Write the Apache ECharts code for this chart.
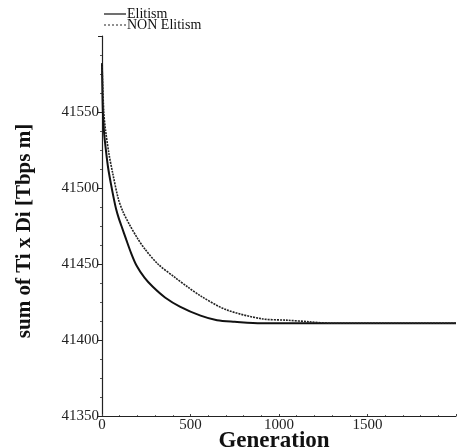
<!DOCTYPE html>
<html><head><meta charset="utf-8">
<script src="https://cdn.jsdelivr.net/npm/echarts@6/dist/echarts.min.js"></script>
<style>html,body{margin:0;padding:0;background:#fff}#c{width:458px;height:448px}</style>
</head><body><div id="c"></div>
<script>
const elitismGen = [0, 5, 12, 23, 35, 50, 65, 80, 95, 110, 137, 165, 195, 240, 287, 356, 440, 557, 650, 750, 900, 1200, 1500, 2000];
const elitismVal = [41582, 41550, 41536, 41524, 41513, 41503, 41494, 41486, 41480, 41475, 41466, 41457, 41449, 41441, 41435, 41428, 41422, 41416, 41413, 41412, 41411, 41411, 41411, 41411];
const nonGen = [0, 10, 20, 40, 60, 92, 120, 155, 200, 241, 316, 414, 483, 557, 700, 900, 1050, 1170, 1300, 1600, 2000];
const nonVal = [41582, 41550, 41538, 41522, 41510, 41493, 41484, 41476, 41467, 41460, 41450, 41441, 41435, 41429, 41420, 41414, 41413, 41412, 41411, 41411, 41411];
const yTicks = [41350, 41400, 41450, 41500, 41550];
const xTicks = [0, 500, 1000, 1500];

const pairs = (g, v) => g.map((x, i) => [x, v[i]]);
const serif = 'Liberation Serif, Times New Roman, serif';
const legText = { fontFamily: serif, fontSize: 14, color: '#111', padding: [0, 0, 0, -4] };
const chart = echarts.init(document.getElementById('c'));
chart.setOption({
  animation: false,
  backgroundColor: '#fff',
  grid: { left: 102, right: 2, top: 36, bottom: 32, outerBoundsMode: 'none', containLabel: false },
  legend: [
    { left: 99, top: 2, itemWidth: 22, itemHeight: 8, textStyle: legText,
      data: [{ name: 'Elitism', icon: 'path://M0,4L22,4L22,5.2L0,5.2Z' }] },
    { left: 99, top: 13, itemWidth: 22, itemHeight: 8, textStyle: legText,
      data: [{ name: 'NON Elitism', icon: 'path://M0,4L2,4L2,5L0,5ZM4,4L6,4L6,5L4,5ZM8,4L10,4L10,5L8,5ZM12,4L14,4L14,5L12,5ZM16,4L18,4L18,5L16,5ZM20,4L22,4L22,5L20,5Z' }] }
  ],
  xAxis: {
    type: 'value', min: 0, max: 2000, interval: 500,
    name: 'Generation', nameLocation: 'middle', nameGap: 14, nameMoveOverlap: false,
    nameTextStyle: { fontFamily: serif, fontSize: 23, fontWeight: 'bold', color: '#111', padding: [0, 10, 0, 0] },
    axisLine: { lineStyle: { color: '#222', width: 1 } },
    axisTick: { show: true, inside: true, length: 2, lineStyle: { color: '#444' } },
    minorTick: { show: true, splitNumber: 5, length: 1, lineStyle: { color: '#666' } },
    splitLine: { show: false },
    axisLabel: { fontFamily: serif, fontSize: 15, color: '#222', margin: 2,
      formatter: v => xTicks.includes(v) ? String(v) : '' }
  },
  yAxis: {
    type: 'value', min: 41350, max: 41600, interval: 50,
    name: 'sum of Ti x Di [Tbps m]', nameLocation: 'middle', nameGap: 67, nameMoveOverlap: false,
    nameTextStyle: { fontFamily: serif, fontSize: 21, fontWeight: 'bold', color: '#111', padding: [0, 10, 0, 0] },
    axisLine: { lineStyle: { color: '#222', width: 1.2 } },
    axisTick: { show: true, length: 4, lineStyle: { color: '#222' } },
    minorTick: { show: true, splitNumber: 4, length: 2, lineStyle: { color: '#555' } },
    splitLine: { show: false },
    axisLabel: { fontFamily: serif, fontSize: 15, color: '#222', margin: 3,
      formatter: v => yTicks.includes(v) ? String(v) : '' }
  },
  series: [
    { name: 'Elitism', type: 'line', symbol: 'none', smooth: 0.3,
      data: pairs(elitismGen, elitismVal),
      lineStyle: { color: '#111', width: 2 }, itemStyle: { color: '#111' } },
    { name: 'NON Elitism', type: 'line', symbol: 'none', smooth: 0.3,
      data: pairs(nonGen, nonVal),
      lineStyle: { color: '#222', width: 1.6, type: [2, 1] }, itemStyle: { color: '#222' } }
  ]
});
</script></body></html>
